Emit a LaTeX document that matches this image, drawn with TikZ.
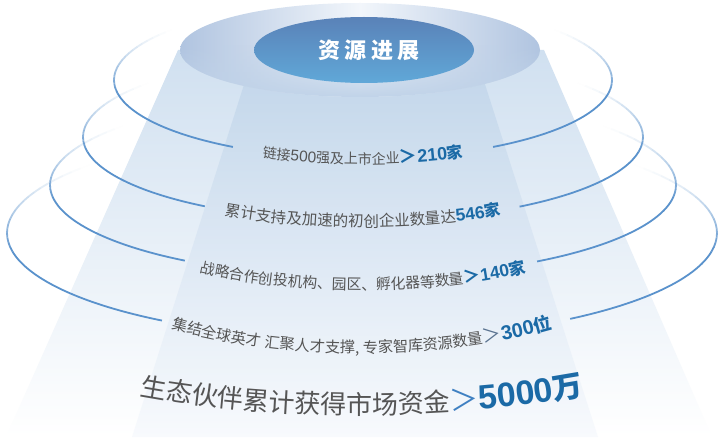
\documentclass[tikz,border=0pt]{standalone}
\usepackage{fontspec}
\usetikzlibrary{decorations.text,fadings}
\newfontfamily\cjk{Noto Sans CJK SC}
\newfontfamily\titlefont[LetterSpace=20]{Noto Sans CJK SC}
\newfontfamily\arialf{Liberation Sans}
\definecolor{txtgray}{HTML}{555555}
\definecolor{numblue}{HTML}{1B6AA6}
\definecolor{ltblue}{HTML}{3F80C2}
\definecolor{gtblue}{HTML}{5A7390}
\definecolor{ringblue}{HTML}{5A92CC}
\definecolor{capedge}{HTML}{B0C4E0}
\definecolor{capmid}{HTML}{F2F6FB}
\definecolor{capfront}{HTML}{BFD2E8}
\definecolor{innertop}{HTML}{5A82B8}
\definecolor{innerbot}{HTML}{60A8D8}
\definecolor{beamtop}{HTML}{D0E0F0}
\definecolor{beamin}{HTML}{BBD1E8}
\definecolor{beaminbot}{HTML}{F6F9FD}
\newcommand\fmtgray[1]{\cjk\fontsize{#1}{#1}\selectfont\color{txtgray}}
\newcommand\fmtdig[1]{\arialf\fontsize{#1}{#1}\selectfont\color{txtgray}}
\newcommand\fmtnum[1]{\arialf\bfseries\fontsize{#1}{#1}\selectfont\color{numblue}}
\newcommand\fmtcjb[1]{\cjk\bfseries\fontsize{#1}{#1}\selectfont\color{numblue}}
\newcommand\ringdraw[6]{%
  \draw[ringline] (#1,#2) ++(#5:#3 and #4) arc[start angle=#5, end angle=190, x radius=#3, y radius=#4];
  \draw[ringline] (#1,#2) ++(#6:#3 and #4) arc[start angle=#6, end angle=350, x radius=#3, y radius=#4];
  \foreach \k in {0,...,19}{%
    \pgfmathsetmacro{\angA}{190-2.5*\k}%
    \pgfmathsetmacro{\angB}{350+2.5*\k}%
    \pgfmathsetmacro{\ropc}{(1-(\k+0.5)/20)^1.4}%
    \draw[ringline, draw opacity=\ropc] (#1,#2) ++(\angA:#3 and #4) arc[start angle=\angA, delta angle=-2.5, x radius=#3, y radius=#4];
    \draw[ringline, draw opacity=\ropc] (#1,#2) ++(\angB:#3 and #4) arc[start angle=\angB, delta angle=2.5, x radius=#3, y radius=#4];
  }%
}
\tikzset{
  ringline/.style={draw=ringblue, line width=1.8pt, line cap=butt},
  textarc/.style={decorate, decoration={text along path, text align=center, text={#1}}}
}
\begin{document}
\begin{tikzpicture}[x=1pt,y=1pt]
\useasboundingbox (0,0) rectangle (722,437);
\fill[white] (0,0) rectangle (722,437);
% beams
\shade[top color=beamtop, bottom color=white] (178,387) -- (544,387) -- (712,0) -- (6,0) -- cycle;
\shade[top color=beamin, bottom color=beaminbot, opacity=0.75] (255,387) -- (474,387) -- (598,0) -- (132,0) -- cycle;
% rings
\ringdraw{363}{357}{249}{78.5}{238.5}{301.5}
\ringdraw{363}{300}{280}{84}{235.6}{304}
\ringdraw{363}{252}{313}{92}{235.3}{303.8}
\ringdraw{362}{204}{355}{106}{235.7}{305.9}
% top cap
\shade[left color=capedge, right color=capedge, middle color=capmid] (360,387) ellipse[x radius=180, y radius=47];
\begin{scope}
  \clip (360,387) ellipse[x radius=180, y radius=47];
  \fill[capfront, path fading=north] (170,338) rectangle (550,392);
\end{scope}
\shade[top color=innertop, bottom color=innerbot] (364,387) ellipse[x radius=110, y radius=33];
\node[text=white, font=\titlefont\bfseries\fontsize{22}{22}\selectfont, inner sep=0pt] (title) at (369,387) {资源进展};
% text lines
\path[textarc={|\fmtgray{14}|链接|\fmtdig{15.5}|500|\fmtgray{14}|强及上市企业|\fmtcjb{18}|＞|\fmtnum{18}|210|\fmtcjb{16}|家}]
  (363,357) ++(200:260 and 84) arc[start angle=200, end angle=340, x radius=260, y radius=84];
\path[textarc={|\fmtgray{15.5}|累计支持及加速的初创企业数量达|\fmtnum{17.5}|546|\fmtcjb{16}|家}]
  (363,300) ++(200:280 and 90) arc[start angle=200, end angle=340, x radius=280, y radius=90];
\path[textarc={|\fmtgray{14.8}|战略合作创投机构、园区、孵化器等数量|\fmtcjb{17}|＞|\fmtnum{17.5}|140|\fmtcjb{16.5}|家}]
  (363,252) ++(200:295 and 105) arc[start angle=200, end angle=340, x radius=295, y radius=105];
\path[textarc={|\fmtgray{15.2}|集结全球英才 汇聚人才支撑, 专家智库资源数量|\cjk\fontsize{19}{19}\selectfont\color{gtblue}|＞|\fmtnum{20}|300|\fmtcjb{18}|位}]
  (362,204) ++(200:314 and 120) arc[start angle=200, end angle=340, x radius=314, y radius=120];
\path[textarc={|\cjk\fontsize{26}{26}\selectfont\color{txtgray}|生态伙伴累计获得市场资金|\cjk\fontsize{29}{29}\selectfont\color{ltblue}|＞|\fmtnum{34}|5000|\fmtcjb{30}|万}]
  (362,121) ++(200:380 and 98) arc[start angle=200, end angle=340, x radius=380, y radius=98];
\end{tikzpicture}
\end{document}
